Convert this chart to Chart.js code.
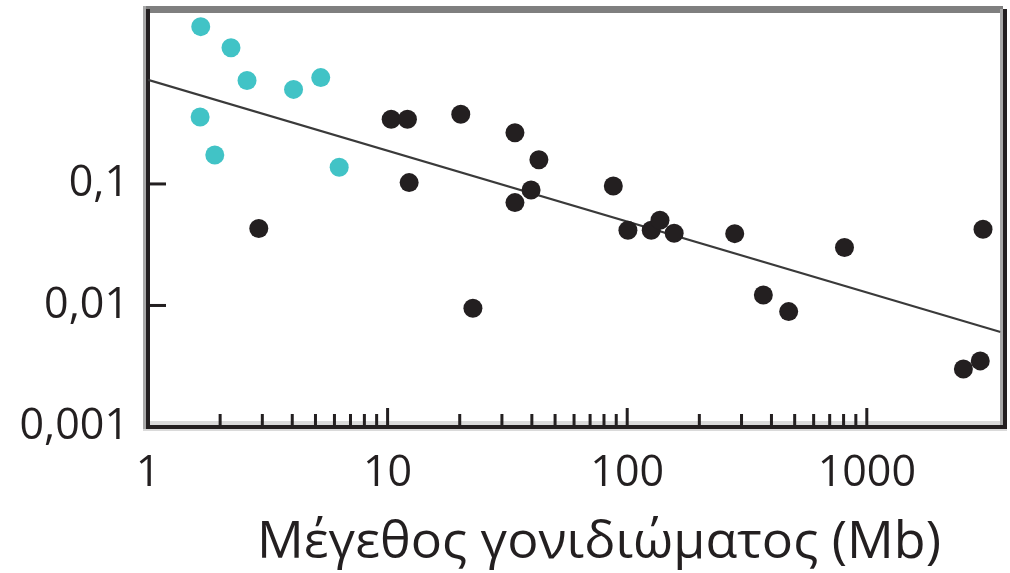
<!DOCTYPE html>
<html lang="el">
<head>
<meta charset="UTF-8">
<script src="https://cdn.jsdelivr.net/npm/chart.js"></script>
<title>Μέγεθος γονιδιώματος</title>
<style>
  html, body { margin: 0; padding: 0; background: #fff; }
  #wrap { width: 1010px; height: 573px; }
</style>
</head>
<body>
<div id="wrap"><canvas id="genomeChart" width="1010" height="573"></canvas></div>
<script>
// small genomes (cyan)
const cyanSize = [1.66, 2.22, 2.59, 4.05, 5.26, 1.65, 1.90, 6.28];
const cyanRate = [1.97, 1.32, 0.71, 0.60, 0.75, 0.355, 0.173, 0.137];

// other genomes (black)
const blackSize = [2.90, 10.35, 12.1, 12.3, 20.2, 22.7, 34.0, 34.0, 39.7, 42.8, 87.5,
                   100.7, 126, 137, 157, 281, 370, 472, 807, 2530, 2975, 3055];
const blackRate = [0.043, 0.341, 0.341, 0.1026, 0.375, 0.0095, 0.264, 0.0702, 0.0893, 0.158, 0.0963,
                   0.0416, 0.0416, 0.0502, 0.0393, 0.039, 0.0122, 0.0089, 0.030, 0.0030, 0.0035, 0.0424];

// regression line, end points
const fitSize = [1, 3614];
const fitRate = [0.718, 0.00605];

const xTicks = [1, 10, 100, 1000];
const xTickLabels = ['1', '10', '100', '1000'];
const yTicks = [0.001, 0.01, 0.1];
const yTickLabels = ['0,001', '0,01', '0,1'];
const xTitle = 'Μέγεθος γονιδιώματος (Mb)';

const toPoints = (xs, ys) => xs.map((x, i) => ({ x: x, y: ys[i] }));

const tickFont = { family: '"Open Sans", sans-serif', size: 43 };
const ink = '#231f20';

// keep the plot area fixed: no extra room for half labels at the ends
const fixSize = (s, w, h) => {
    if (w) s.width = w;
    if (h) s.height = h;
    s.paddingTop = 0; s.paddingBottom = 0;
    s.paddingLeft = 0; s.paddingRight = 0;
};

// frame, inward tick marks and the axis title
const framePlugin = {
    id: 'frame',
    beforeDatasetsDraw(chart) {
        const ctx = chart.ctx;
        const xs = chart.scales.x, ys = chart.scales.y;
        ctx.save();
        ctx.fillStyle = '#7f7f7f';
        ctx.fillRect(143, 6, 860, 7);
        ctx.fillStyle = '#a8a8a8';
        ctx.fillRect(143, 6, 3, 425);
        ctx.fillRect(1000, 9, 3, 416);
        ctx.fillStyle = '#dadada';
        ctx.fillRect(150, 421, 850, 4);
        ctx.fillRect(143, 429, 864, 2);
        ctx.fillStyle = ink;
        ctx.fillRect(146, 9, 4, 420);
        ctx.fillRect(146, 425, 861, 4);
        ctx.fillRect(1003, 9, 4, 420);

        // x ticks: minor 2..9 per decade, major at each decade
        for (let d = 1; d < 1000; d *= 10) {
            for (let m = 2; m <= 9; m++) {
                const px = xs.getPixelForValue(d * m);
                ctx.fillRect(px - 1.5, 414, 3, 11);
            }
            const pm = xs.getPixelForValue(d * 10);
            ctx.fillRect(pm - 1.5, 408, 3, 17);
        }
        // y ticks
        [0.01, 0.1].forEach(v => {
            const py = ys.getPixelForValue(v);
            ctx.fillRect(150, py - 1.5, 16, 3);
        });
        ctx.restore();
    },
    afterDraw(chart) {
        const ctx = chart.ctx;
        ctx.save();
        ctx.font = '52px "Open Sans", sans-serif';
        ctx.fillStyle = ink;
        ctx.textAlign = 'center';
        ctx.textBaseline = 'alphabetic';
        ctx.fillText(xTitle, 599, 558);
        ctx.restore();
    }
};

new Chart(document.getElementById('genomeChart'), {
    type: 'scatter',
    data: {
        datasets: [
            {
                data: toPoints(cyanSize, cyanRate),
                backgroundColor: '#41c3c6',
                borderWidth: 0,
                pointRadius: 9.5,
                order: 1
            },
            {
                data: toPoints(blackSize, blackRate),
                backgroundColor: ink,
                borderWidth: 0,
                pointRadius: 9.5,
                order: 1
            },
            {
                data: toPoints(fitSize, fitRate),
                showLine: true,
                borderColor: '#3a3a3a',
                borderWidth: 2.2,
                pointRadius: 0,
                order: 2
            }
        ]
    },
    options: {
        responsive: false,
        animation: false,
        layout: { padding: { top: 10, right: 0, left: 2, bottom: 0 } },
        plugins: { legend: { display: false }, tooltip: { enabled: false } },
        scales: {
            x: {
                type: 'logarithmic',
                min: 1,
                max: 3614,
                afterFit: s => fixSize(s, 0, 146),
                afterBuildTicks: s => { s.ticks = xTicks.map(v => ({ value: v })); },
                grid: { display: false, drawTicks: false },
                border: { display: false },
                ticks: {
                    font: tickFont,
                    color: ink,
                    padding: 21,
                    maxRotation: 0,
                    autoSkip: false,
                    callback: v => xTickLabels[xTicks.indexOf(v)]
                }
            },
            y: {
                type: 'logarithmic',
                min: 0.001,
                max: 2.70,
                afterFit: s => fixSize(s, 146, 0),
                afterBuildTicks: s => { s.ticks = yTicks.map(v => ({ value: v })); },
                grid: { display: false, drawTicks: false },
                border: { display: false },
                ticks: {
                    font: tickFont,
                    color: ink,
                    padding: 19,
                    autoSkip: false,
                    callback: v => yTickLabels[yTicks.indexOf(v)]
                }
            }
        }
    },
    plugins: [framePlugin]
});
</script>
</body>
</html>
